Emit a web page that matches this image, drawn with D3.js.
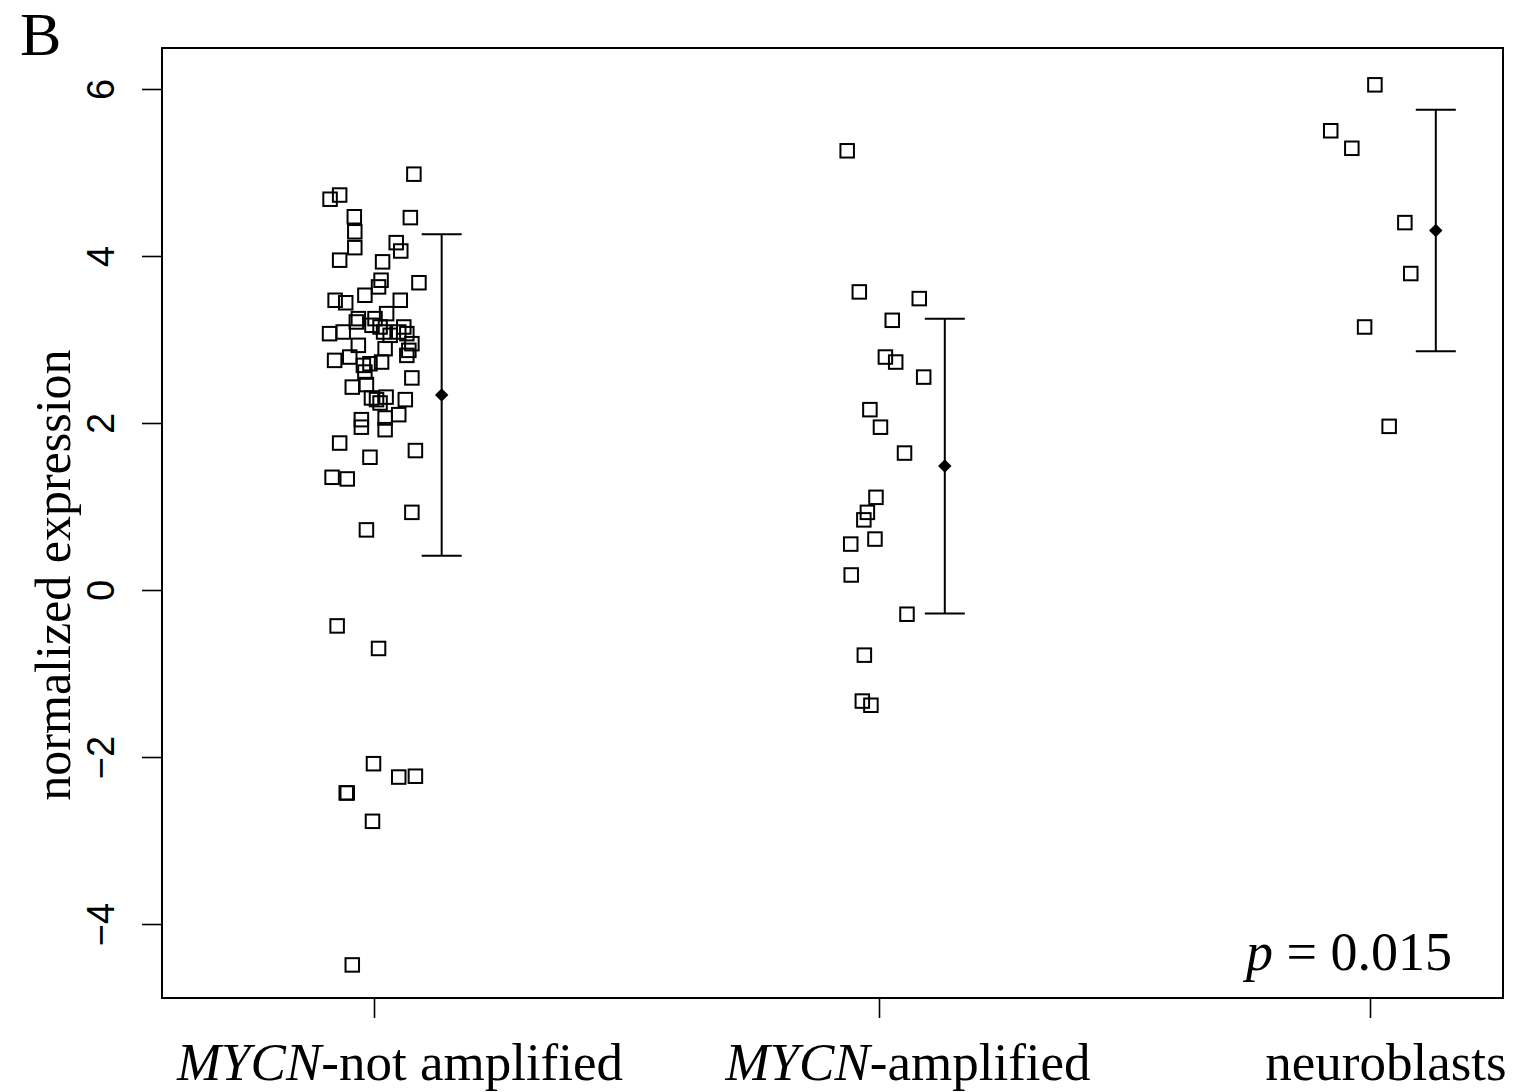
<!DOCTYPE html>
<html>
<head>
<meta charset="utf-8">
<script src="https://cdn.jsdelivr.net/npm/d3@7"></script>
<style>
  body { margin: 0; background: #fff; }
  svg { display: block; }
</style>
</head>
<body>
<div id="chart"></div>
<script>
// ---- data ----
var catItalic = ["MYCN", "MYCN", ""];
var catRest = ["-not amplified", "-amplified", "neuroblasts"];
var yTicks = [-4, -2, 0, 2, 4, 6];

// [horizontal jitter (category units), normalized expression]
var notAmplified = [
    [0.079, 4.98], [-0.087, 4.68], [-0.068, 4.73], [-0.039, 4.47], [0.072, 4.46],
    [-0.038, 4.29], [-0.038, 4.10], [0.044, 4.16], [0.053, 4.06], [-0.068, 3.95],
    [0.017, 3.93], [0.014, 3.71], [0.009, 3.63], [0.089, 3.68], [-0.018, 3.53],
    [-0.077, 3.47], [-0.056, 3.44], [0.052, 3.47], [-0.031, 3.25], [-0.035, 3.21],
    [0.002, 3.25], [0.025, 3.31], [0.012, 3.15], [0.019, 3.09], [0.032, 3.05],
    [0.049, 3.09], [0.059, 3.15], [0.065, 3.07], [0.075, 2.95], [0.069, 2.87],
    [0.065, 2.81], [-0.088, 3.07], [-0.061, 3.09], [-0.031, 2.93], [0.022, 2.89],
    [-0.078, 2.75], [-0.048, 2.79], [-0.021, 2.69], [-0.008, 2.71], [0.015, 2.73],
    [-0.018, 2.61], [0.075, 2.54], [-0.043, 2.43], [-0.015, 2.46], [-0.005, 2.30],
    [0.005, 2.28], [0.012, 2.24], [0.024, 2.31], [0.062, 2.28], [0.049, 2.10],
    [0.022, 2.06], [-0.025, 2.04], [-0.025, 1.95], [0.022, 1.92], [-0.068, 1.76],
    [0.082, 1.67], [-0.008, 1.59], [-0.083, 1.35], [-0.053, 1.33], [0.075, 0.93],
    [-0.015, 0.72], [-0.004, 3.17], [-0.073, -0.43], [0.009, -0.70], [-0.001, -2.08],
    [0.049, -2.24], [0.082, -2.23], [-0.055, -2.43], [-0.053, -2.43], [-0.003, -2.77],
    [-0.043, -4.49]
];
var amplified = [
    [-0.063, 5.26], [-0.039, 3.57], [0.082, 3.49], [0.027, 3.23], [0.013, 2.79],
    [0.034, 2.73], [0.091, 2.55], [-0.018, 2.16], [0.003, 1.95], [0.052, 1.64],
    [-0.006, 1.11], [-0.023, 0.93], [-0.030, 0.84], [-0.008, 0.61], [-0.056, 0.55],
    [-0.055, 0.18], [0.057, -0.29], [-0.029, -0.78], [-0.033, -1.33], [-0.016, -1.38]
];
var neuroblasts = [
    [0.010, 6.05], [-0.080, 5.50], [-0.037, 5.29], [0.071, 4.40], [0.083, 3.79],
    [-0.011, 3.15], [0.039, 1.96]
];

// mean and sd drawn as the error bars
var groupMean = [2.335, 1.485, 4.305];
var groupSd = [1.925, 1.765, 1.445];
var pValue = "0.015";

// ---- layout ----
var width = 1515,
    height = 1092,
    margin = {top: 48, right: 12, bottom: 94, left: 162},
    plotW = width - margin.left - margin.right,
    plotH = height - margin.top - margin.bottom,
    barOffset = 0.134,
    capHalf = 20,
    boxSize = 13.5;

var groups = [notAmplified, amplified, neuroblasts];

var svg = d3.select("#chart")
    .append("svg")
    .attr("width", width)
    .attr("height", height);

var g = svg.append("g")
    .attr("transform", "translate(" + margin.left + "," + margin.top + ")");

var x = d3.scaleLinear().domain([1, 2, 3]).range([212, 717, 1208]);
var y = d3.scaleLinear().domain([-4.886, 6.491]).range([plotH, 0]);

// y axis
var yAxis = g.append("g")
    .call(d3.axisLeft(y)
        .tickValues(yTicks)
        .tickSize(20)
        .tickFormat(function (d) { return d < 0 ? "\u2212" + Math.abs(d) : d; }));
yAxis.select(".domain").remove();
yAxis.selectAll("line").attr("stroke", "#000").attr("stroke-width", 1.6);
yAxis.selectAll("text")
    .attr("x", null)
    .attr("dy", null)
    .attr("text-anchor", "middle")
    .attr("transform", "translate(-48,0) rotate(-90)")
    .attr("fill", "#000")
    .style("font-family", "'Liberation Sans', Arial, sans-serif")
    .style("font-size", "38px");

// x axis
var xAxis = g.append("g")
    .attr("transform", "translate(0," + plotH + ")")
    .call(d3.axisBottom(x).tickValues([1, 2, 3]).tickSize(20).tickFormat(""));
xAxis.select(".domain").remove();
xAxis.selectAll("line").attr("stroke", "#000").attr("stroke-width", 1.6);

var labelDx = [26, 29, 16];
catRest.forEach(function (rest, i) {
    var t = g.append("text")
        .attr("x", x(i + 1) + labelDx[i])
        .attr("y", plotH + 82)
        .attr("text-anchor", "middle")
        .style("font-family", "'Liberation Serif', 'Times New Roman', serif")
        .style("font-size", "53px");
    if (catItalic[i]) {
        t.append("tspan").style("font-style", "italic").text(catItalic[i]);
    }
    t.append("tspan").text(rest);
});

// frame
g.append("rect")
    .attr("width", plotW)
    .attr("height", plotH)
    .attr("fill", "none")
    .attr("stroke", "#000")
    .attr("stroke-width", 2);

// jittered points
groups.forEach(function (pts, i) {
    g.selectAll(".pt" + i)
        .data(pts)
        .enter()
        .append("rect")
        .attr("x", function (d) { return x(i + 1 + d[0]) - boxSize / 2; })
        .attr("y", function (d) { return y(d[1]) - boxSize / 2; })
        .attr("width", boxSize)
        .attr("height", boxSize)
        .attr("fill", "none")
        .attr("stroke", "#000")
        .attr("stroke-width", 2);
});

// mean +/- sd bars
groupMean.forEach(function (m, i) {
    var bx = x(i + 1 + barOffset),
        top = y(m + groupSd[i]),
        bot = y(m - groupSd[i]);
    var bar = g.append("g").attr("stroke", "#000").attr("stroke-width", 2);
    bar.append("line").attr("x1", bx).attr("x2", bx).attr("y1", top).attr("y2", bot);
    bar.append("line").attr("x1", bx - capHalf).attr("x2", bx + capHalf).attr("y1", top).attr("y2", top);
    bar.append("line").attr("x1", bx - capHalf).attr("x2", bx + capHalf).attr("y1", bot).attr("y2", bot);
    g.append("path")
        .attr("d", d3.symbol(d3.symbolSquare, 90)())
        .attr("transform", "translate(" + bx + "," + y(m) + ") rotate(45)")
        .attr("fill", "#000");
});

// axis title
svg.append("text")
    .attr("transform", "translate(70,575) rotate(-90)")
    .attr("text-anchor", "middle")
    .style("font-family", "'Liberation Serif', 'Times New Roman', serif")
    .style("font-size", "50px")
    .text("normalized expression");

// panel letter
svg.append("text")
    .attr("x", 20)
    .attr("y", 55)
    .style("font-family", "'Liberation Serif', 'Times New Roman', serif")
    .style("font-size", "62px")
    .text("B");

// p value
var pt = g.append("text")
    .attr("x", plotW - 51)
    .attr("y", plotH - 28)
    .attr("text-anchor", "end")
    .style("font-family", "'Liberation Serif', 'Times New Roman', serif")
    .style("font-size", "54px");
pt.append("tspan").style("font-style", "italic").text("p");
pt.append("tspan").text(" = " + pValue);
</script>
</body>
</html>
